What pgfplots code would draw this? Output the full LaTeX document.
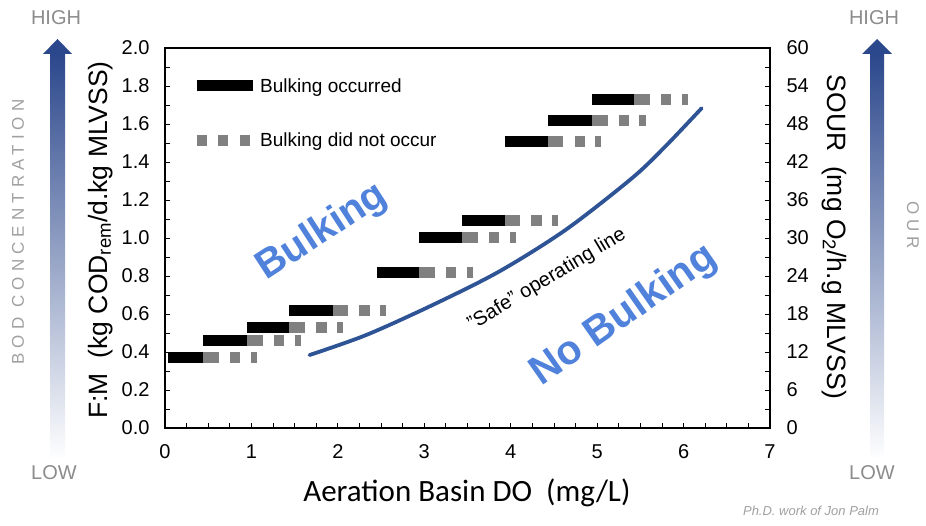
\documentclass[border=0pt]{standalone}
\usepackage{pgfplots}
\pgfplotsset{compat=1.18}
\usepackage{fontspec}
\setmainfont{Liberation Sans}
\newfontfamily\calibri{Carlito}
\definecolor{arrowblue}{RGB}{44,72,140}
\definecolor{curveblue}{RGB}{46,84,150}
\definecolor{textblue}{RGB}{80,130,220}
\definecolor{lgray}{RGB}{140,140,140}
\definecolor{llgray}{RGB}{160,160,160}
\definecolor{dgray}{RGB}{128,128,128}
\begin{document}
\begin{tikzpicture}
\begin{axis}[
  at={(165pt,98pt)}, anchor=south west,
  scale only axis, width=605pt, height=380pt,
  xmin=0, xmax=7, ymin=0, ymax=2,
  xtick={0,1,2,3,4,5,6,7}, minor x tick num=3,
  ytick={0,0.2,0.4,0.6,0.8,1,1.2,1.4,1.6,1.8,2}, minor y tick num=1,
  xtick pos=left, ytick pos=left,
  tick align=inside,
  major tick length=5pt, minor tick length=5pt,
  tick style={black, line width=0.8pt},
  axis line style={black, line width=1.3pt},
  /pgf/number format/assume math mode=true,
  ticklabel style={font=\fontsize{20}{20}\selectfont},
  yticklabel style={xshift=-12pt, /pgf/number format/.cd, fixed, fixed zerofill, precision=1},
  xticklabel style={yshift=-13pt},
  xlabel={\calibri Aeration Basin DO\ \ (mg/L)},
  xlabel style={font=\fontsize{31}{31}\selectfont, at={(axis description cs:0.499,-0.171)}, anchor=center},
  ylabel={F:M\ \ (kg COD\textsubscript{rem}/d.kg MLVSS)},
  ylabel style={font=\fontsize{26.5}{26.5}\selectfont, at={(axis description cs:-0.107,0.495)}, anchor=center},
  unbounded coords=jump,
  legend style={at={(axis description cs:0.043,0.926)}, anchor=north west, draw=none, fill=none,
    font=\fontsize{19}{19}\selectfont, inner sep=0pt, row sep=35pt, cells={anchor=west}},
]
\addplot[black, line width=11pt, line cap=butt,
  legend image code/.code={\draw[black, line width=11pt] (0pt,0pt) -- (56pt,0pt);}]
coordinates {
(0.03,0.37) (0.44,0.37) (0.5,nan)
(0.44,0.46) (0.95,0.46) (0.5,nan)
(0.95,0.53) (1.44,0.53) (0.5,nan)
(1.44,0.62) (1.94,0.62) (0.5,nan)
(2.45,0.82) (2.94,0.82) (0.5,nan)
(2.94,1.00) (3.44,1.00) (0.5,nan)
(3.44,1.09) (3.93,1.09) (0.5,nan)
(3.93,1.51) (4.43,1.51) (0.5,nan)
(4.43,1.62) (4.94,1.62) (0.5,nan)
(4.94,1.73) (5.43,1.73)
};
\addlegendentry{Bulking occurred}
\addplot[dgray, line width=11pt, line cap=butt,
  legend image code/.code={\draw[dgray, line width=11pt, dash pattern=on 10pt off 11.5pt] (0pt,0pt) -- (53pt,0pt);}]
coordinates {
(0.44,0.37) (0.62,0.37) (0.5,nan) (0.75,0.37) (0.87,0.37) (0.5,nan) (0.99,0.37) (1.06,0.37) (0.5,nan)
(0.95,0.46) (1.13,0.46) (0.5,nan) (1.26,0.46) (1.38,0.46) (0.5,nan) (1.50,0.46) (1.57,0.46) (0.5,nan)
(1.44,0.53) (1.62,0.53) (0.5,nan) (1.75,0.53) (1.87,0.53) (0.5,nan) (1.99,0.53) (2.06,0.53) (0.5,nan)
(1.94,0.62) (2.12,0.62) (0.5,nan) (2.25,0.62) (2.37,0.62) (0.5,nan) (2.49,0.62) (2.56,0.62) (0.5,nan)
(2.94,0.82) (3.12,0.82) (0.5,nan) (3.25,0.82) (3.37,0.82) (0.5,nan) (3.49,0.82) (3.56,0.82) (0.5,nan)
(3.44,1.00) (3.62,1.00) (0.5,nan) (3.75,1.00) (3.87,1.00) (0.5,nan) (3.99,1.00) (4.06,1.00) (0.5,nan)
(3.93,1.09) (4.11,1.09) (0.5,nan) (4.24,1.09) (4.36,1.09) (0.5,nan) (4.48,1.09) (4.55,1.09) (0.5,nan)
(4.43,1.51) (4.61,1.51) (0.5,nan) (4.74,1.51) (4.86,1.51) (0.5,nan) (4.98,1.51) (5.05,1.51) (0.5,nan)
(4.94,1.62) (5.12,1.62) (0.5,nan) (5.25,1.62) (5.37,1.62) (0.5,nan) (5.49,1.62) (5.56,1.62) (0.5,nan)
(5.43,1.73) (5.61,1.73) (0.5,nan) (5.74,1.73) (5.86,1.73) (0.5,nan) (5.98,1.73) (6.05,1.73)
};
\addlegendentry{Bulking did not occur}
\addplot[curveblue, line width=3.8pt, smooth, line cap=round, forget plot]
coordinates {(1.672,0.384) (2.326,0.489) (3.095,0.647) (3.864,0.823) (4.633,1.042) (5.401,1.314) (5.787,1.481) (6.209,1.683)};
\node[rotate=33, text=textblue, font=\bfseries\fontsize{40}{40}\selectfont] at (axis cs:1.82,1.03) {Bulking};
\node[rotate=35, text=textblue, font=\bfseries\fontsize{41}{41}\selectfont] at (axis cs:5.31,0.59) {No Bulking};
\node[rotate=31, font=\fontsize{20}{20}\selectfont] at (axis cs:4.42,0.78) {"Safe" operating line};
\end{axis}
\begin{axis}[
  at={(165pt,98pt)}, anchor=south west,
  scale only axis, width=605pt, height=380pt,
  xmin=0, xmax=7, ymin=0, ymax=60,
  axis x line=none, axis y line*=right,
  y axis line style={-, black, line width=1.3pt},
  ytick={0,6,12,18,24,30,36,42,48,54,60}, minor y tick num=1,
  tick align=inside,
  major tick length=5pt, minor tick length=5pt,
  tick style={black, line width=0.8pt},
  /pgf/number format/assume math mode=true,
  ticklabel style={font=\fontsize{20}{20}\selectfont},
  yticklabel style={xshift=13pt},
  ylabel={SOUR\ \ (mg O\textsubscript{2}/h.g MLVSS)},
  ylabel style={font=\fontsize{26.5}{26.5}\selectfont, rotate=180, at={(axis description cs:1.106,0.503)}, anchor=center},
]
\addplot[draw=none, forget plot] coordinates {(0,0) (7,60)};
\end{axis}
% gradient arrows
\shade[bottom color=white, top color=arrowblue] (50pt,66pt) rectangle (65pt,472pt);
\fill[arrowblue] (43pt,472pt) -- (72pt,472pt) -- (57.5pt,487pt) -- cycle;
\shade[bottom color=white, top color=arrowblue] (870pt,66pt) rectangle (884pt,472pt);
\fill[arrowblue] (862pt,472pt) -- (892pt,472pt) -- (877pt,487pt) -- cycle;
\node[text=lgray, font=\fontsize{20}{20}\selectfont] at (56pt,508pt) {HIGH};
\node[text=lgray, font=\fontsize{20}{20}\selectfont] at (54pt,53pt) {LOW};
\node[text=lgray, font=\fontsize{20}{20}\selectfont] at (874pt,508pt) {HIGH};
\node[text=lgray, font=\fontsize{20}{20}\selectfont] at (872pt,53pt) {LOW};
\node[text=llgray, rotate=90, font=\fontsize{17}{17}\selectfont\addfontfeature{LetterSpace=30}] at (18pt,294pt) {BOD CONCENTRATION};
\node[text=llgray, rotate=-90, font=\fontsize{17}{17}\selectfont\addfontfeature{LetterSpace=30}] at (913pt,301pt) {OUR};
\node[text=llgray, font=\itshape\fontsize{13}{13}\selectfont] at (811pt,15pt) {Ph.D. work of Jon Palm};
\pgfresetboundingbox
\path[use as bounding box] (0pt,0pt) rectangle (926pt,526pt);
\end{tikzpicture}
\end{document}
